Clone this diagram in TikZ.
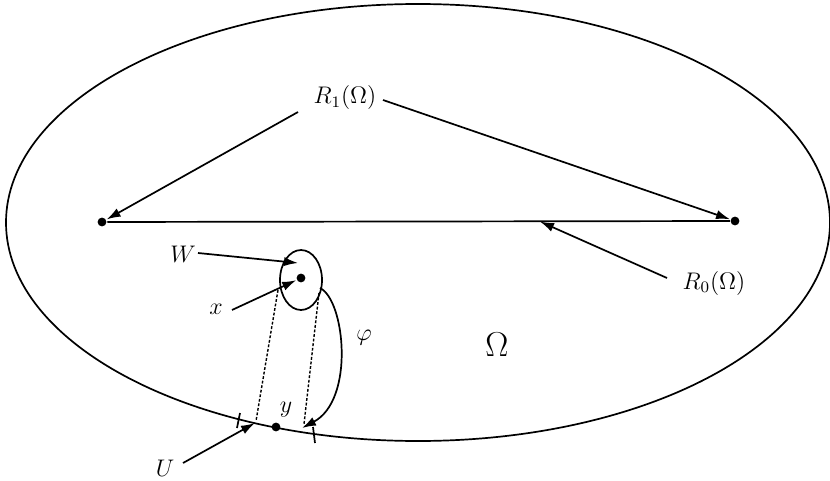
\documentclass[tikz,border=0pt]{standalone}
\usetikzlibrary{arrows.meta}

\tikzset{every picture/.style={line width=0.85pt}}
\tikzset{
  dotnode/.style={circle,fill=black,inner sep=0pt,minimum size=4.4pt},
  lbl/.style={inner sep=0.75pt,font=\large},
  arr/.style={-{Latex[length=7pt,width=4.6pt]}},
  proj/.style={dash pattern={on 1.4pt off 0.9pt},line width=0.7pt}
}

\begin{document}
\begin{tikzpicture}[x=0.5pt,y=0.5pt,yscale=-1,xscale=1]
\useasboundingbox (0,0) rectangle (830,481);

%Shape: Ellipse (Omega)
\draw (418,222.5) ellipse [x radius=412, y radius=218.5];
%Shape: Ellipse (W)
\draw (301,280) ellipse [x radius=21, y radius=30];

% points
\node [dotnode] (pl) at (102,222) {};
\node [dotnode] (pr) at (735,221) {};
\node [dotnode] (px) at (301,278) {};
\node [dotnode] (py) at (276,427) {};
\coordinate (seg) at (540,221.6);
\coordinate (wtip) at (298,263);
\coordinate (utip) at (255,423);
\coordinate (phis) at (320,288);
\coordinate (phie) at (302,428);

% Text Node
\node [lbl] (rone) at (345,98) {$R_1(\Omega)$};
\node [lbl] (rzero) at (714,283) {$R_0(\Omega)$};
\node [lbl] (wlab) at (183,254) {$W$};
\node [lbl] (xlab) at (216,309) {$x$};
\node [lbl] (philab) at (364,338) {$\varphi$};
\node [lbl] (ylab) at (286,410) {$y$};
\node [lbl] (ulab) at (165,468) {$U$};
\node [inner sep=0.75pt,font=\LARGE] (om) at (497,345) {$\Omega$};

% start points of the arrows
\coordinate (ra) at (298,112);
\coordinate (rb) at (383,100);
\coordinate (za) at (667,278);
\coordinate (wa) at (198,253);
\coordinate (xa) at (232,310);
\coordinate (ua) at (183,463);

%Straight Lines
\draw (pl) -- (pr);
\draw [arr] (ra) -- (pl);
\draw [arr] (rb) -- (pr);
\draw [arr] (za) -- (seg);
\draw [arr] (wa) -- (wtip);
\draw [arr] (xa) -- (px);
\draw [arr] (ua) -- (utip);

%Curve: phi
\draw [arr] (phis) .. controls (345,300) and (355,400) .. (phie);

%Dotted projections
\draw [proj] (278,290) -- (256,421);
\draw [proj] (319,293) -- (304,424);

%Ticks on the boundary
\draw (240,413) -- (237,428);
\draw (313,427) -- (315,443);

\end{tikzpicture}
\end{document}
